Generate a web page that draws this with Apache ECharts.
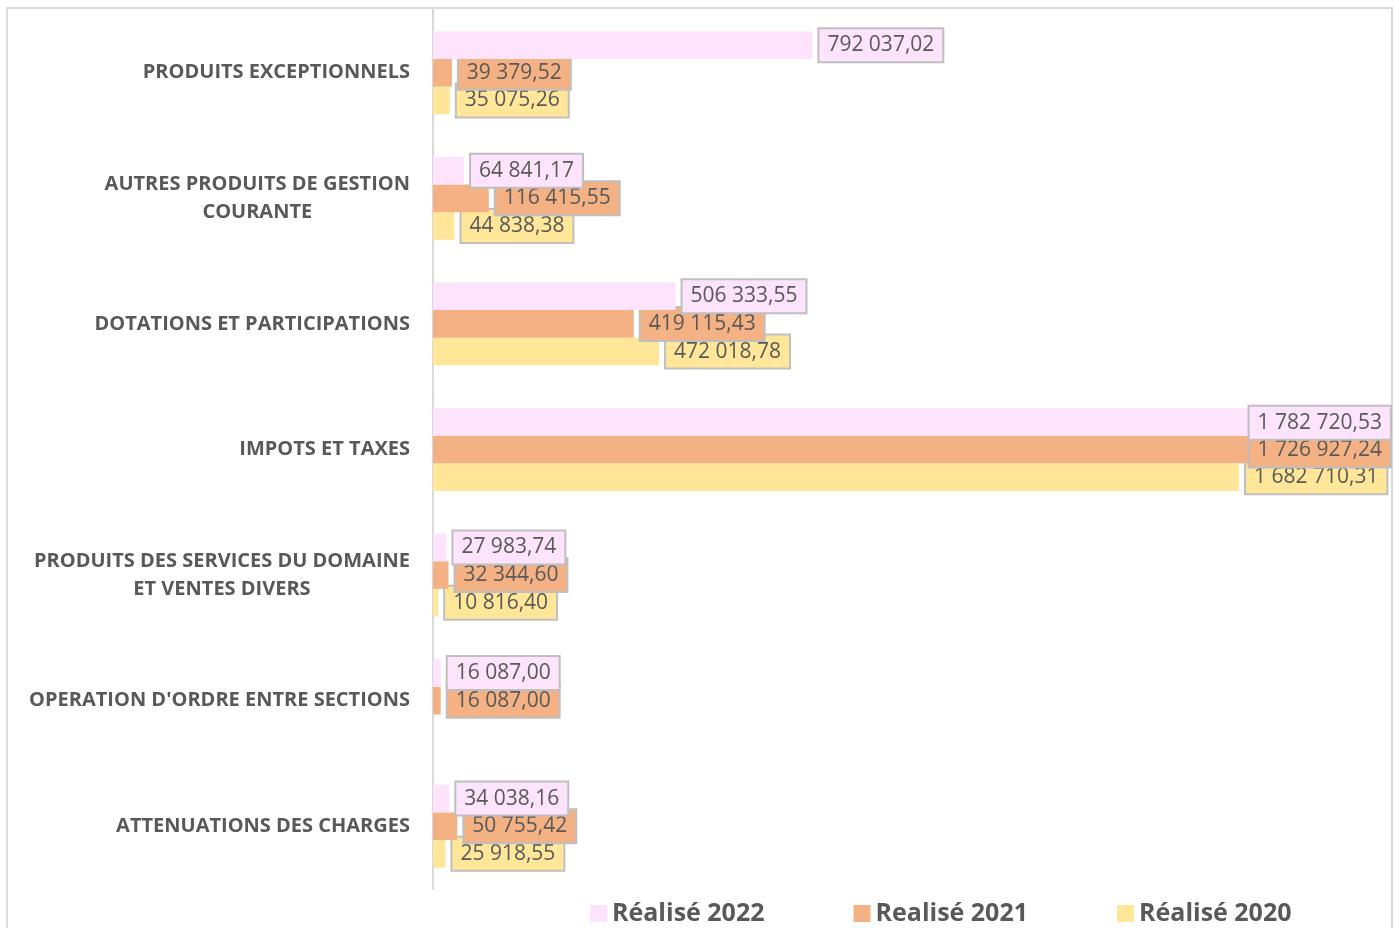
<!DOCTYPE html>
<html>
<head>
<meta charset="utf-8">
<script src="https://cdn.jsdelivr.net/npm/echarts@6/dist/echarts.min.js"></script>
<style>
  html, body { margin: 0; padding: 0; background: #fff; }
  #chart { width: 1399px; height: 928px; }
</style>
</head>
<body>
<div id="chart"></div>
<script>
  // categories, top to bottom
  const categories = [
    "PRODUITS EXCEPTIONNELS",
    "AUTRES PRODUITS DE GESTION\nCOURANTE",
    "DOTATIONS ET PARTICIPATIONS",
    "IMPOTS ET TAXES",
    "PRODUITS DES SERVICES DU DOMAINE\nET VENTES DIVERS",
    "OPERATION D'ORDRE ENTRE SECTIONS",
    "ATTENUATIONS DES CHARGES",
  ];
  const seriesNames = ["Réalisé 2022", "Realisé 2021", "Réalisé 2020"];
  const realise2022 = [792037.02, 64841.17, 506333.55, 1782720.53, 27983.74, 16087.0, 34038.16];
  const realise2021 = [39379.52, 116415.55, 419115.43, 1726927.24, 32344.6, 16087.0, 50755.42];
  const realise2020 = [35075.26, 44838.38, 472018.78, 1682710.31, 10816.4, null, 25918.55];
  const colors = ["#FDE3FC", "#F4B183", "#FFE699"];

  const textColor = "#595959";
  const plotRight = 1391;

  // 1782720.53 -> "1 782 720,53"
  const frNumber = (v) => {
    const parts = v.toFixed(2).split(".");
    return parts[0].replace(/\B(?=(\d{3})+(?!\d))/g, " ") + "," + parts[1];
  };

  const makeSeries = (name, data, i) => ({
    name: name,
    type: "bar",
    data: data,
    z: 4 - i,
    itemStyle: { color: colors[i] },
    barGap: "0%",
    barCategoryGap: "34%",
    label: {
      show: true,
      position: "right",
      distance: 7,
      offset: [0, 1],
      formatter: (p) => frNumber(p.value),
      color: textColor,
      fontSize: 21,
      fontFamily: "Open Sans",
      backgroundColor: colors[i],
      borderColor: "#BFBFBF",
      borderWidth: 2,
      padding: [6, 8, 5, 8],
    },
    // labels that don't fit are pushed back inside the plot, like excel
    labelLayout: (params) => {
      const r = params.labelRect;
      if (r.x + r.width > plotRight) {
        return {
          x: plotRight - 1,
          y: r.y + r.height / 2,
          align: "right",
          verticalAlign: "middle",
        };
      }
      return {};
    },
  });

  var chartDom = document.getElementById("chart");
  var myChart = echarts.init(chartDom);
  var option;

  option = {
    backgroundColor: "#fff",
    animation: false,
    grid: {
      left: 433,
      right: 1399 - plotRight,
      top: 10,
      bottom: 39,
      containLabel: false,
    },
    graphic: [
      {
        type: "rect",
        shape: { x: 7, y: 8, width: 1385, height: 960 },
        style: { fill: null, stroke: "#D9D9D9", lineWidth: 2 },
        z: 0,
        silent: true,
      },
    ],
    legend: {
      data: seriesNames,
      left: 585,
      top: 896,
      icon: "rect",
      itemWidth: 17,
      itemHeight: 17,
      itemGap: 89,
      textStyle: {
        color: textColor,
        fontSize: 25,
        fontWeight: "bold",
        fontFamily: "Open Sans",
      },
    },
    xAxis: {
      type: "value",
      min: 0,
      max: 2000000,
      axisLine: { show: false },
      axisTick: { show: false },
      axisLabel: { show: false },
      splitLine: { show: false },
    },
    yAxis: {
      type: "category",
      inverse: true,
      data: categories,
      axisLine: { show: true, lineStyle: { color: "#D9D9D9", width: 2 } },
      axisTick: { show: false },
      axisLabel: {
        margin: 23,
        align: "right",
        formatter: (v) =>
          v
            .split("\n")
            .map((l) => "{c|" + l + "}")
            .join("\n"),
        rich: {
          c: {
            align: "center",
            color: textColor,
            fontSize: 20,
            fontWeight: "bold",
            fontFamily: "Open Sans",
            lineHeight: 28,
          },
        },
      },
    },
    series: [
      makeSeries(seriesNames[0], realise2022, 0),
      makeSeries(seriesNames[1], realise2021, 1),
      makeSeries(seriesNames[2], realise2020, 2),
    ],
  };

  option && myChart.setOption(option);
</script>
</body>
</html>
